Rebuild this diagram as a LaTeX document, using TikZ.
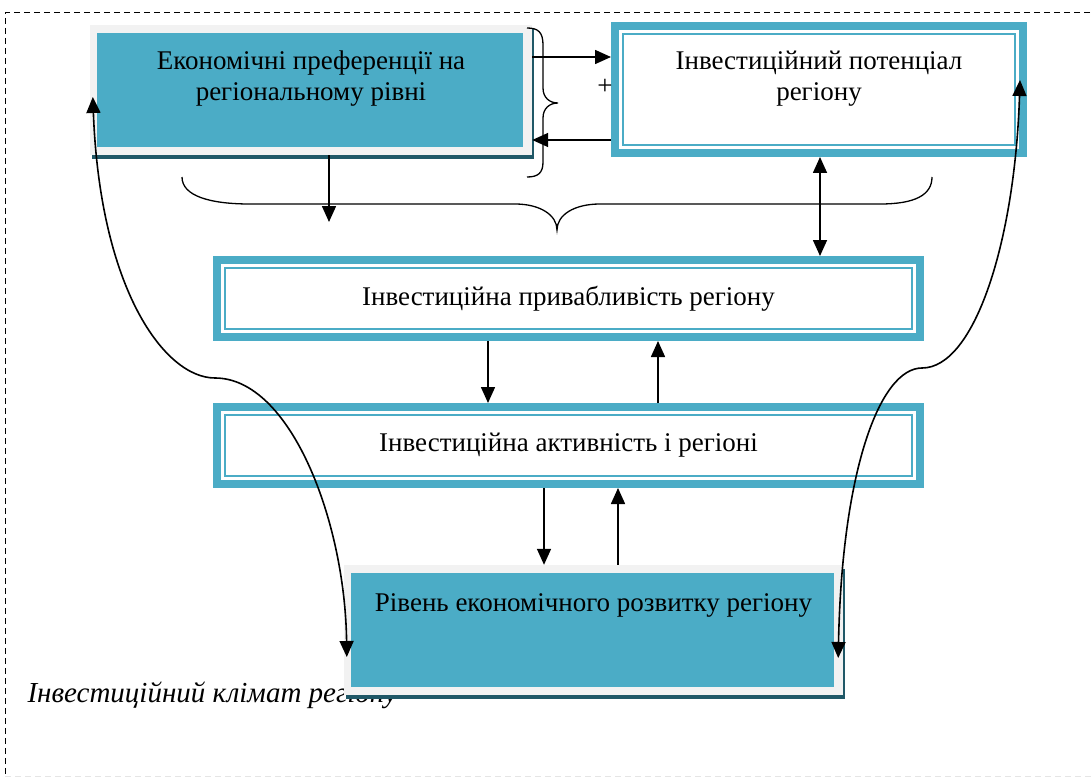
\documentclass[tikz,border=0pt]{standalone}
\usepackage{fontspec}
\setmainfont{Liberation Serif}
\usetikzlibrary{arrows.meta}
\definecolor{aqua}{RGB}{75,172,198}
\definecolor{aquadark}{RGB}{32,88,103}
\definecolor{paleg}{RGB}{242,242,242}
\tikzset{
  arr/.style={-{Triangle[length=16pt,width=14pt]}, line width=1.6pt},
  dblarr/.style={{Triangle[length=16pt,width=14pt]}-{Triangle[length=16pt,width=14pt]}, line width=1.6pt},
  shadebox/.style={fill=paleg, inner sep=0pt, align=center,
    preaction={fill=aquadark, transform canvas={shift={(2pt,-4pt)}}},
    path picture={\fill[aqua] ([shift={(7pt,-8pt)}]path picture bounding box.north west) rectangle ([shift={(-9pt,8pt)}]path picture bounding box.south east);}},
  framebox/.style={draw=aqua, line width=8pt, fill=white, inner sep=0pt, align=center,
    path picture={\draw[aqua, line width=2.2pt] ([shift={(8pt,-8pt)}]path picture bounding box.north west) rectangle ([shift={(-8pt,8pt)}]path picture bounding box.south east);}},
}
\begin{document}
\begin{tikzpicture}[x=1pt, y=-1pt, every node/.style={font=\fontsize{27}{31}\selectfont}]
	\useasboundingbox (0,0) rectangle (1091,778);
	% outer frame
	\draw[line width=1pt, dash pattern=on 6pt off 4pt] (1100,13) -- (5,13) -- (5,778);
	\draw[gray!20, line width=1pt, dash pattern=on 6pt off 4pt] (5,776) -- (1100,776);
	% boxes
	\node[shadebox, minimum width=442pt, minimum height=130pt, text height=76pt, text depth=54pt] (pref) at (311,90) {Економічні преференції на\\регіональному рівні};
	\node[framebox, minimum width=408pt, minimum height=127pt, text height=75pt, text depth=52pt] (pot) at (819,89.5) {Інвестиційний потенціал\\регіону};
	\node[framebox, minimum width=703pt, minimum height=77pt] (attr) at (568.5,298.5) {Інвестиційна привабливість регіону};
	\node[framebox, minimum width=703pt, minimum height=77pt] (act) at (568.5,445.5) {Інвестиційна активність і регіоні};
	\node[anchor=base west, font=\fontsize{29}{33}\selectfont\itshape] (clim) at (24,702) {Інвестиційний клімат регіону};
	\node[shadebox, minimum width=499pt, minimum height=130pt, text height=46pt, text depth=84pt] (lvl) at (593.5,630) {Рівень економічного розвитку регіону};
	\node (plus) at (605,87) {+};
	% braces
	\draw[line width=1.3pt] (527,28) .. controls (538,28) and (543,32) .. (543,45) -- (543,88) .. controls (543,98) and (550,103) .. (558,103) .. controls (550,103) and (543,108) .. (543,118) -- (543,162) .. controls (543,173) and (538,177) .. (527,177);
	\draw[line width=1.3pt] (182,177) .. controls (182,196) and (210,204) .. (250,204) -- (515,204) .. controls (540,204) and (557,215) .. (557,230) .. controls (557,215) and (574,204) .. (600,204) -- (880,204) .. controls (915,204) and (932,195) .. (932,177);
	% arrows
	\coordinate (brk) at (329,222);
	\coordinate (lbend) at (215,378);
	\coordinate (rbend) at (922,368);
	\draw[arr] ([yshift=33pt]pref.east) coordinate (ea) -- (ea -| pot.west);
	\draw[arr] ([yshift=-50.5pt]pot.west) coordinate (wb) -- (wb -| pref.east);
	\draw[arr] (pref.south -| brk) -- (brk);
	\draw[dblarr] ([xshift=1pt]pot.south) -- ([xshift=1pt]pot.south |- attr.north);
	\draw[arr] ([xshift=-80.5pt]attr.south) -- ([xshift=-80.5pt]act.north);
	\draw[arr] ([xshift=89.5pt]act.north) -- ([xshift=89.5pt]attr.south);
	\draw[arr] ([xshift=-24.5pt]act.south) -- ([xshift=-49.5pt]lvl.north);
	\draw[arr] ([xshift=24.5pt]lvl.north) -- ([xshift=49.5pt]act.south);
	\draw[dblarr] ([shift={(3pt,-7pt)}]pref.west) .. controls (100,290) and (165,378) .. (lbend) .. controls (290,378) and (345,520) .. ([shift={(3pt,-27pt)}]lvl.west);
	\draw[dblarr] ([shift={(-5pt,-28pt)}]lvl.east) .. controls (842,470) and (880,368) .. (rbend) .. controls (975,368) and (1015,240) .. ([shift={(-7pt,9.5pt)}]pot.east);
\end{tikzpicture}
\end{document}
